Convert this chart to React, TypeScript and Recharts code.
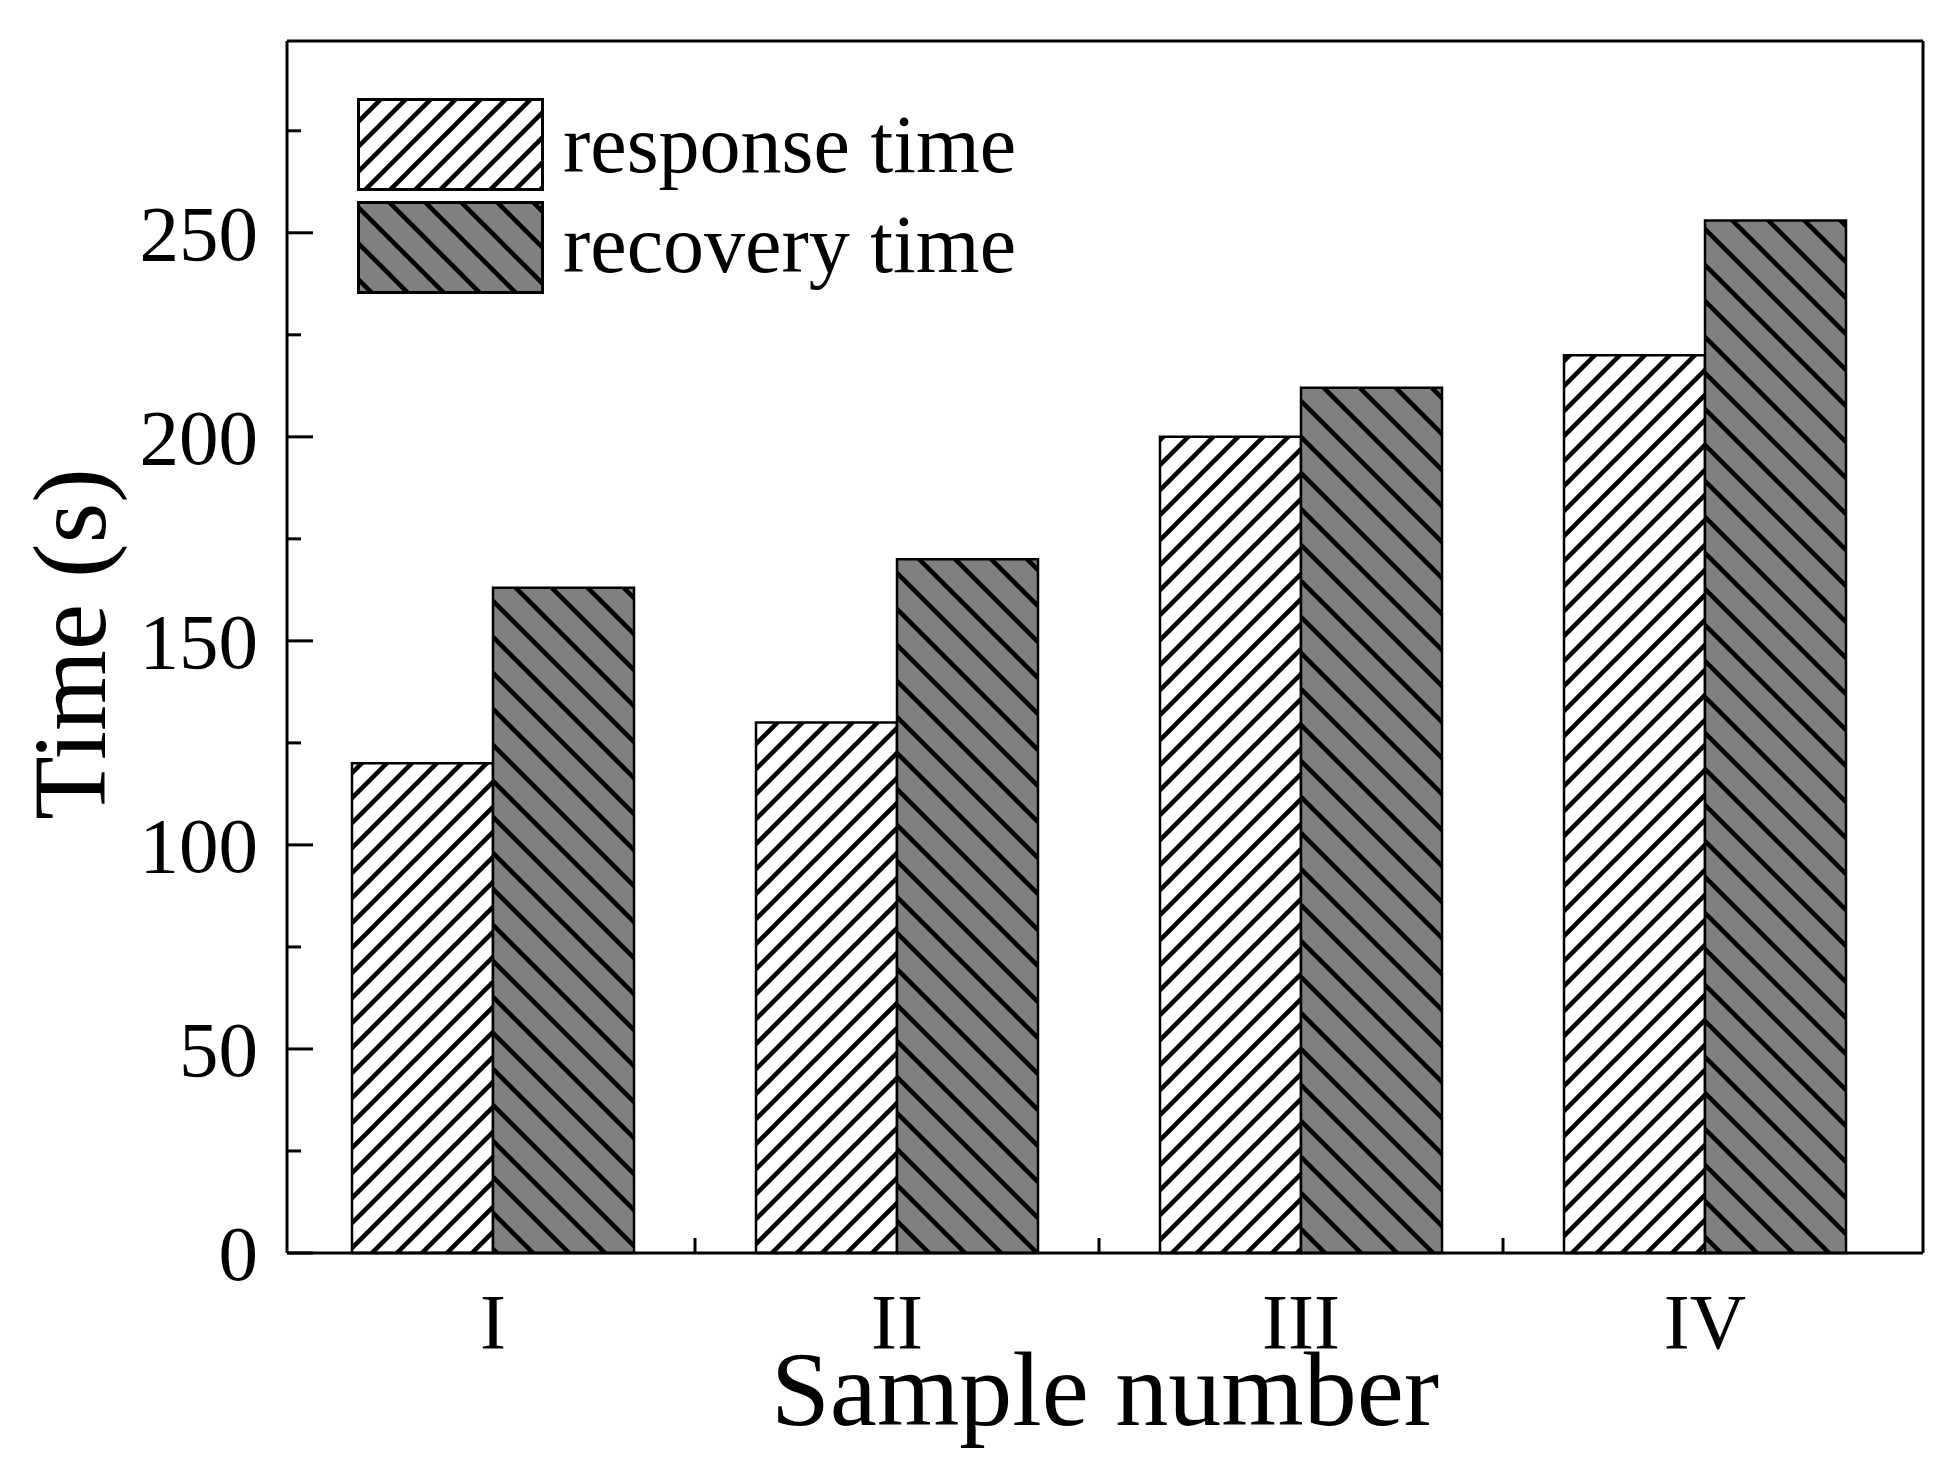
import React from "react";
import { BarChart, Bar, XAxis, YAxis, Label, CartesianGrid } from "recharts";

const categories = ["I", "II", "III", "IV"];
const responseTime = [120, 130, 200, 220];
const recoveryTime = [163, 170, 212, 253];
const seriesNames = ["response time", "recovery time"];
const yTicks = [0, 25, 50, 75, 100, 125, 150, 175, 200, 225, 250, 275];
const yMax = 297;

const FONT = '"Liberation Serif", "Times New Roman", serif';

const data = categories.map((c, i) => ({
  sample: c,
  response: responseTime[i],
  recovery: recoveryTime[i],
}));

// hatch patterns, horizontal period in px
const RESP = 25;
const RECO = 36;

function Hatches({ prefix }: { prefix: string }) {
  const s = RESP;
  const t = RECO;
  return (
    <defs>
      <pattern
        id={prefix + "resp"}
        patternUnits="userSpaceOnUse"
        width={s}
        height={s}
      >
        <rect width={s} height={s} fill="#ffffff" />
        <path
          d={`M0,${s} L${s},0 M${-s / 4},${s / 4} L${s / 4},${-s / 4} M${(3 * s) / 4},${(5 * s) / 4} L${(5 * s) / 4},${(3 * s) / 4}`}
          stroke="#000"
          strokeWidth={4.5}
        />
      </pattern>
      <pattern
        id={prefix + "reco"}
        patternUnits="userSpaceOnUse"
        width={t}
        height={t}
      >
        <rect width={t} height={t} fill="#808080" />
        <path
          d={`M0,0 L${t},${t} M${-t / 4},${(3 * t) / 4} L${t / 4},${(5 * t) / 4} M${(3 * t) / 4},${-t / 4} L${(5 * t) / 4},${t / 4}`}
          stroke="#000"
          strokeWidth={4.5}
        />
      </pattern>
    </defs>
  );
}

function YTick(props: any) {
  const { x, y, payload } = props;
  const v = payload.value;
  const major = v % 50 === 0;
  const ax = x + 29;
  return (
    <g>
      <line
        x1={ax}
        x2={ax + (major ? 26 : 14)}
        y1={y}
        y2={y}
        stroke="#000"
        strokeWidth={3}
      />
      {major && (
        <text
          x={x}
          y={y}
          dy="0.34em"
          textAnchor="end"
          fontSize={79}
          fontFamily={FONT}
          fill="#000"
        >
          {v}
        </text>
      )}
    </g>
  );
}

function XTick(props: any) {
  const { x, y, payload, index } = props;
  const axisY = y - 44;
  const half = 202;
  return (
    <g>
      {index < categories.length - 1 && (
        <line
          x1={x + half}
          x2={x + half}
          y1={axisY}
          y2={axisY - 15}
          stroke="#000"
          strokeWidth={3}
        />
      )}
      <text
        x={x}
        y={y}
        dy={51}
        textAnchor="middle"
        fontSize={78}
        fontFamily={FONT}
        fill="#000"
      >
        {payload.value}
      </text>
    </g>
  );
}

function LegendBox() {
  const fills = ["url(#lgresp)", "url(#lgreco)"];
  return (
    <svg
      width={720}
      height={200}
      style={{ position: "absolute", left: 357, top: 98 }}
    >
      <Hatches prefix="lg" />
      {seriesNames.map((name, i) => (
        <g key={name}>
          <rect
            x={1.5}
            y={1.5 + i * 103}
            width={184}
            height={90}
            fill={fills[i]}
            stroke="#000"
            strokeWidth={3}
          />
          <text
            x={206}
            y={74 + i * 100}
            fontSize={82}
            fontFamily={FONT}
            fill="#000"
          >
            {name}
          </text>
        </g>
      ))}
    </svg>
  );
}

const axisStroke = { stroke: "#000", strokeWidth: 3 };

export default function App() {
  return (
    <div style={{ position: "relative", width: 1960, height: 1480, background: "#fff" }}>
      <style>{"body{margin:0}"}</style>
      <BarChart
        width={1960}
        height={1480}
        data={data}
        margin={{ top: 41, right: 37, bottom: 0, left: 0 }}
        barGap={0}
        barSize={141}
      >
        <Hatches prefix="bar" />
        {/* top and right frame lines */}
        <CartesianGrid
          stroke="#000"
          strokeWidth={3}
          horizontalCoordinatesGenerator={({ offset }: any) => [offset.top]}
          verticalCoordinatesGenerator={({ offset }: any) => [
            offset.left + offset.width,
          ]}
        />
        <XAxis
          dataKey="sample"
          height={227}
          padding={{ left: 4, right: 16 }}
          axisLine={axisStroke}
          tickLine={false}
          tickSize={0}
          tickMargin={44}
          interval={0}
          tick={<XTick />}
        >
          <Label
            content={() => (
              <text
                x={1105}
                y={1425}
                textAnchor="middle"
                fontSize={106}
                fontFamily={FONT}
                fill="#000"
              >
                Sample number
              </text>
            )}
          />
        </XAxis>
        <YAxis
          width={287}
          domain={[0, yMax]}
          ticks={yTicks}
          interval={0}
          axisLine={axisStroke}
          tickLine={false}
          tickSize={0}
          tickMargin={29}
          tick={<YTick />}
        >
          <Label
            content={() => (
              <text
                x={105}
                y={644}
                textAnchor="middle"
                fontSize={104}
                fontFamily={FONT}
                fill="#000"
                transform="rotate(-90 105 644)"
              >
                Time (s)
              </text>
            )}
          />
        </YAxis>
        <Bar
          dataKey="response"
          name={seriesNames[0]}
          fill="url(#barresp)"
          stroke="#000"
          strokeWidth={2.5}
          isAnimationActive={false}
        />
        <Bar
          dataKey="recovery"
          name={seriesNames[1]}
          fill="url(#barreco)"
          stroke="#000"
          strokeWidth={2.5}
          isAnimationActive={false}
        />
      </BarChart>
      <LegendBox />
    </div>
  );
}
